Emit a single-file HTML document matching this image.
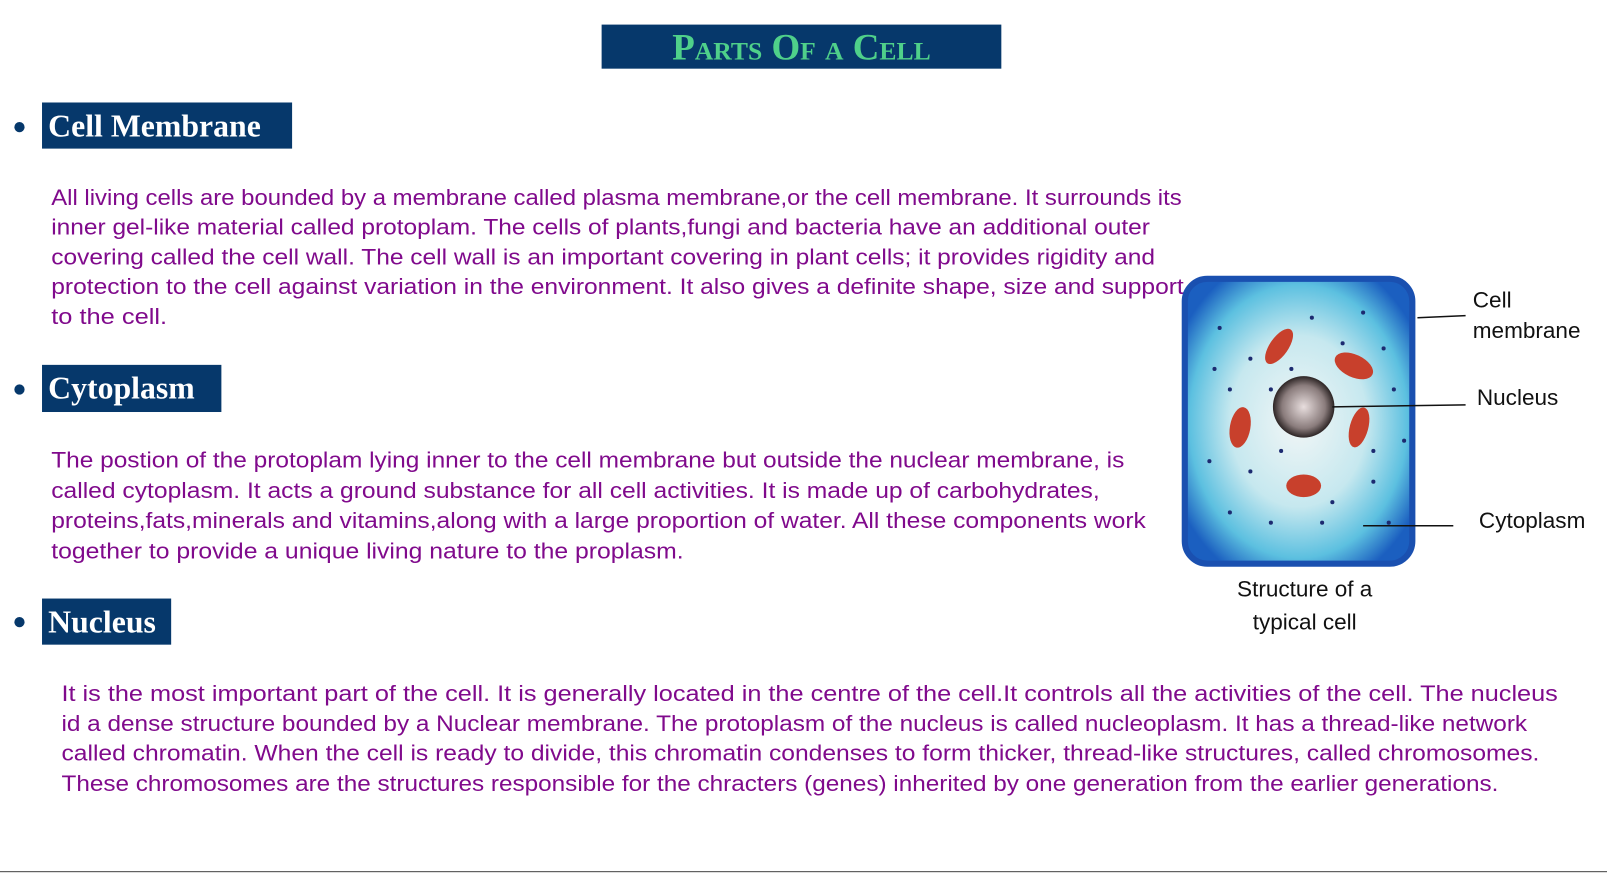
<!DOCTYPE html>
<html><head><meta charset="utf-8">
<style>
html,body{margin:0;padding:0;background:#fff;width:1607px;height:873px;overflow:hidden}
#wrap{position:absolute;left:0;top:0;width:1568px;height:852px;transform:scale(1.0249);transform-origin:0 0}
.abs{position:absolute}
.hdr{position:absolute;background:#06386b;color:#fff;font-family:"Liberation Serif",serif;font-weight:bold;font-size:31px;line-height:46px;padding-left:6px;box-sizing:border-box}
.bul{position:absolute;left:14px;width:10px;height:10px;border-radius:50%;background:#06386b}
</style></head>
<body>
<div id="wrap">
<div class="abs" style="left:587px;top:24px;width:390px;height:43px;background:#06386b;text-align:center;font-family:'Liberation Serif',serif;font-weight:bold;color:#4fd08a;font-size:36px;line-height:44px;font-variant:small-caps">Parts Of a Cell</div>

<div class="bul" style="top:119px"></div>
<div class="hdr" style="left:41px;top:100px;width:244px;height:45px">Cell Membrane</div>
<div class="bul" style="top:375px"></div>
<div class="hdr" style="left:41px;top:356px;width:175px;height:46px">Cytoplasm</div>
<div class="bul" style="top:602px"></div>
<div class="hdr" style="left:41px;top:584px;width:126px;height:45px">Nucleus</div>

<svg class="abs" style="left:0;top:0" width="1568" height="852">
<g font-family="Liberation Sans, sans-serif" font-size="22" fill="#800a8c">
<text x="50" y="200" textLength="1103" lengthAdjust="spacingAndGlyphs">All living cells are bounded by a membrane called plasma membrane,or the cell membrane. It surrounds its</text>
<text x="50" y="229" textLength="1072" lengthAdjust="spacingAndGlyphs">inner gel-like material called protoplam. The cells of plants,fungi and bacteria have an additional outer</text>
<text x="50" y="258" textLength="1077" lengthAdjust="spacingAndGlyphs">covering called the cell wall. The cell wall is an important covering in plant cells; it provides rigidity and</text>
<text x="50" y="287" textLength="1105" lengthAdjust="spacingAndGlyphs">protection to the cell against variation in the environment. It also gives a definite shape, size and support</text>
<text x="50" y="316" textLength="113" lengthAdjust="spacingAndGlyphs">to the cell.</text>
<text x="50" y="456" textLength="1047" lengthAdjust="spacingAndGlyphs">The postion of the protoplam lying inner to the cell membrane but outside the nuclear membrane, is</text>
<text x="50" y="486" textLength="1023" lengthAdjust="spacingAndGlyphs">called cytoplasm. It acts a ground substance for all cell activities. It is made up of carbohydrates,</text>
<text x="50" y="515" textLength="1068" lengthAdjust="spacingAndGlyphs">proteins,fats,minerals and vitamins,along with a large proportion of water. All these components work</text>
<text x="50" y="545" textLength="617" lengthAdjust="spacingAndGlyphs">together to provide a unique living nature to the proplasm.</text>
<text x="60" y="684" textLength="1460" lengthAdjust="spacingAndGlyphs">It is the most important part of the cell. It is generally located in the centre of the cell.It controls all the activities of the cell. The nucleus</text>
<text x="60" y="713" textLength="1430" lengthAdjust="spacingAndGlyphs">id a dense structure bounded by a Nuclear membrane. The protoplasm of the nucleus is called nucleoplasm. It has a thread-like network</text>
<text x="60" y="742" textLength="1442" lengthAdjust="spacingAndGlyphs">called chromatin. When the cell is ready to divide, this chromatin condenses to form thicker, thread-like structures, called chromosomes.</text>
<text x="60" y="772" textLength="1402" lengthAdjust="spacingAndGlyphs">These chromosomes are the structures responsible for the chracters (genes) inherited by one generation from the earlier generations.</text>
</g>
</svg>

<svg class="abs" style="left:1140px;top:260px" width="428" height="370">
<defs>
<radialGradient id="cg" cx="0.5" cy="0.5" r="0.6">
<stop offset="0" stop-color="#f2f6f6"/><stop offset="0.5" stop-color="#c6e8ef"/><stop offset="0.8" stop-color="#5cc0e0"/><stop offset="1" stop-color="#1b5fc0"/>
</radialGradient>
<radialGradient id="ng" cx="0.5" cy="0.5" r="0.5">
<stop offset="0" stop-color="#e8dede"/><stop offset="0.7" stop-color="#8a7c7c"/><stop offset="1" stop-color="#2c2424"/>
</radialGradient>
</defs>
<rect x="16" y="12" width="222" height="278" rx="22" fill="url(#cg)" stroke="#1a50b0" stroke-width="6"/>
<circle cx="132" cy="137" r="30" fill="url(#ng)"/>
<g fill="#c8402c">
<ellipse cx="108" cy="78" rx="9" ry="20" transform="rotate(35 108 78)"/>
<ellipse cx="181" cy="97" rx="20" ry="11" transform="rotate(25 181 97)"/>
<ellipse cx="70" cy="157" rx="10" ry="20" transform="rotate(10 70 157)"/>
<ellipse cx="186" cy="157" rx="9" ry="20" transform="rotate(15 186 157)"/>
<ellipse cx="132" cy="214" rx="17" ry="11"/>
</g>
<g fill="#1c2a70">
<circle cx="50" cy="60" r="2"/><circle cx="80" cy="90" r="2"/><circle cx="60" cy="120" r="2"/><circle cx="100" cy="120" r="2"/><circle cx="140" cy="50" r="2"/><circle cx="190" cy="45" r="2"/><circle cx="210" cy="80" r="2"/><circle cx="220" cy="120" r="2"/><circle cx="40" cy="190" r="2"/><circle cx="80" cy="200" r="2"/><circle cx="110" cy="180" r="2"/><circle cx="160" cy="230" r="2"/><circle cx="200" cy="210" r="2"/><circle cx="60" cy="240" r="2"/><circle cx="100" cy="250" r="2"/><circle cx="150" cy="250" r="2"/><circle cx="215" cy="250" r="2"/><circle cx="200" cy="180" r="2"/><circle cx="120" cy="100" r="2"/><circle cx="230" cy="170" r="2"/><circle cx="45" cy="100" r="2"/><circle cx="170" cy="75" r="2"/>
</g>
<g stroke="#111" stroke-width="1.5">
<line x1="243" y1="50" x2="290" y2="48"/>
<line x1="160" y1="137" x2="290" y2="135"/>
<line x1="190" y1="253" x2="278" y2="253"/>
</g>
<g font-family="Liberation Sans, sans-serif" font-size="22" fill="#111">
<text x="297" y="40">Cell</text>
<text x="297" y="70">membrane</text>
<text x="301" y="135">Nucleus</text>
<text x="303" y="255">Cytoplasm</text>
<text x="133" y="322" text-anchor="middle">Structure of a</text>
<text x="133" y="354" text-anchor="middle">typical cell</text>
</g>
</svg>

<div class="abs" style="left:0;top:850px;width:1568px;height:1px;background:#444"></div>
</div>
</body></html>
